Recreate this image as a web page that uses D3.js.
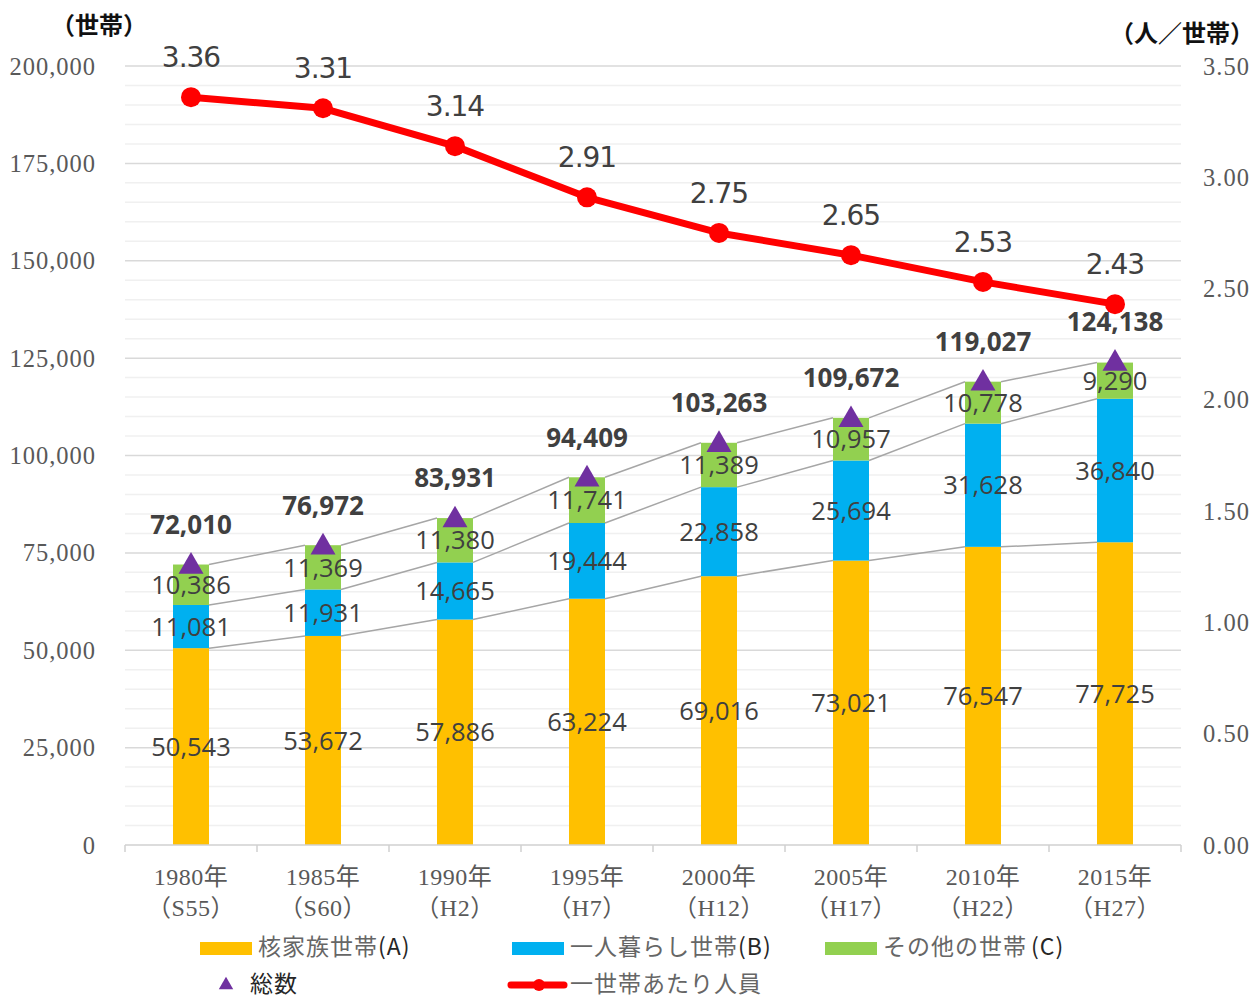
<!DOCTYPE html>
<html>
<head>
<meta charset="utf-8">
<script src="https://cdn.jsdelivr.net/npm/d3@7"></script>
<style>
  body { margin: 0; background: #fff; }
  svg { display: block; }
</style>
</head>
<body>
<div id="chart"></div>
<script>
var years = ["1980年", "1985年", "1990年", "1995年", "2000年", "2005年", "2010年", "2015年"];
var eras = ["（S55）", "（S60）", "（H2）", "（H7）", "（H12）", "（H17）", "（H22）", "（H27）"];
var nuclear = [50543, 53672, 57886, 63224, 69016, 73021, 76547, 77725];
var single = [11081, 11931, 14665, 19444, 22858, 25694, 31628, 36840];
var other = [10386, 11369, 11380, 11741, 11389, 10957, 10778, 9290];
var totals = [72010, 76972, 83931, 94409, 103263, 109672, 119027, 124138];
var perHousehold = [3.36, 3.31, 3.14, 2.91, 2.75, 2.65, 2.53, 2.43];

var seriesNames = ["核家族世帯", "一人暮らし世帯", "その他の世帯"];
var seriesTags = ["(A)", "(B)", "(C)"];
var seriesColors = ["#ffc000", "#00b0f0", "#92d050"];

const W = 1255, H = 998;
const plotL = 125, plotR = 1181, plotT = 66, plotB = 845;

const svg = d3.select("#chart").append("svg").attr("width", W).attr("height", H);

const x = d3.scaleBand().domain(years).range([plotL, plotR]).padding(0);
const y = d3.scaleLinear().domain([0, 200000]).range([plotB, plotT]);
const y2 = d3.scaleLinear().domain([0, 3.5]).range([plotB, plotT]);
const barW = 36;
const cx = (i) => x(years[i]) + x.bandwidth() / 2;

const serif = "'Liberation Serif', 'Noto Sans CJK JP', serif";
const sans = "'Open Sans', 'Liberation Sans', sans-serif";
const jp = "'Noto Sans CJK JP', sans-serif";

// gridlines: minor every 5,000 and major every 25,000
svg.append("g")
  .selectAll("line")
  .data(d3.range(5000, 200001, 5000).filter((v) => v % 25000 !== 0))
  .enter()
  .append("line")
  .attr("x1", plotL).attr("x2", plotR)
  .attr("y1", (d) => y(d)).attr("y2", (d) => y(d))
  .attr("stroke", "#f0f0f0").attr("stroke-width", 1.5);

svg.append("g")
  .selectAll("line")
  .data(d3.range(25000, 200001, 25000))
  .enter()
  .append("line")
  .attr("x1", plotL).attr("x2", plotR)
  .attr("y1", (d) => y(d)).attr("y2", (d) => y(d))
  .attr("stroke", "#d9d9d9").attr("stroke-width", 1.5);

// stacked data
const rows = years.map((yr, i) => ({ i: i, a: nuclear[i], b: single[i], c: other[i] }));
const stack = d3.stack().keys(["a", "b", "c"])(rows);

// series lines between bars
stack.forEach((layer) => {
  const segs = d3.range(years.length - 1).map((i) => [
    [cx(i) + barW / 2, y(layer[i][1])],
    [cx(i + 1) - barW / 2, y(layer[i + 1][1])],
  ]);
  svg.append("g")
    .selectAll("line")
    .data(segs)
    .enter()
    .append("line")
    .attr("x1", (d) => d[0][0]).attr("y1", (d) => d[0][1])
    .attr("x2", (d) => d[1][0]).attr("y2", (d) => d[1][1])
    .attr("stroke", "#a6a6a6").attr("stroke-width", 1.5);
});

// bars
stack.forEach((layer, k) => {
  svg.append("g")
    .selectAll("rect")
    .data(layer)
    .enter()
    .append("rect")
    .attr("x", (d, i) => cx(i) - barW / 2)
    .attr("width", barW)
    .attr("y", (d) => y(d[1]))
    .attr("height", (d) => y(d[0]) - y(d[1]))
    .attr("fill", seriesColors[k]);
});

// axes
const xAxis = svg.append("g").attr("transform", `translate(0,${plotB})`);
xAxis.append("line").attr("x1", plotL).attr("x2", plotR).attr("stroke", "#d0d0d0").attr("stroke-width", 1.5);
xAxis.selectAll("line.tick")
  .data(d3.range(years.length + 1))
  .enter()
  .append("line")
  .attr("class", "tick")
  .attr("x1", (d) => plotL + d * x.bandwidth()).attr("x2", (d) => plotL + d * x.bandwidth())
  .attr("y1", 0).attr("y2", 7)
  .attr("stroke", "#d0d0d0").attr("stroke-width", 1.5);
const xl = xAxis.selectAll("text.lab").data(years).enter().append("text")
  .attr("class", "lab")
  .attr("text-anchor", "middle")
  .attr("font-family", serif).attr("font-size", 24).attr("letter-spacing", 0.5).attr("fill", "#595959");
xl.append("tspan").attr("x", (d, i) => cx(i)).attr("y", 40).text((d) => d);
xl.append("tspan").attr("x", (d, i) => cx(i)).attr("y", 71).text((d, i) => eras[i]);

svg.append("g")
  .selectAll("text")
  .data(d3.range(0, 200001, 25000))
  .enter()
  .append("text")
  .attr("x", 96)
  .attr("y", (d) => y(d))
  .attr("dy", "0.35em")
  .attr("text-anchor", "end")
  .attr("font-family", serif).attr("font-size", 24.5).attr("letter-spacing", 1)
  .attr("fill", "#595959")
  .text((d) => d3.format(",")(d));

svg.append("g")
  .selectAll("text")
  .data(d3.range(0, 3.51, 0.5))
  .enter()
  .append("text")
  .attr("x", 1203)
  .attr("y", (d) => y2(d))
  .attr("dy", "0.35em")
  .attr("font-family", serif).attr("font-size", 24.5).attr("letter-spacing", 1)
  .attr("fill", "#595959")
  .text((d) => d3.format(".2f")(d));

svg.append("text").attr("x", 99).attr("y", 34).attr("text-anchor", "middle")
  .attr("font-family", jp).attr("font-size", 24).attr("font-weight", 700).attr("fill", "#111")
  .text("（世帯）");
svg.append("text").attr("x", 1254).attr("y", 42).attr("text-anchor", "end")
  .attr("font-family", jp).attr("font-size", 24).attr("font-weight", 700).attr("fill", "#111")
  .text("（人／世帯）");

// segment labels
stack.forEach((layer) => {
  svg.append("g")
    .selectAll("text")
    .data(layer)
    .enter()
    .append("text")
    .attr("x", (d, i) => cx(i))
    .attr("y", (d) => (y(d[0]) + y(d[1])) / 2)
    .attr("dy", "0.36em")
    .attr("text-anchor", "middle")
    .attr("font-family", sans).attr("font-size", 25.5).attr("fill", "#404040")
    .text((d) => d3.format(",")(d[1] - d[0]));
});

// per-household line
const line = d3.line().x((d, i) => cx(i)).y((d) => y2(d));
svg.append("path")
  .datum(perHousehold)
  .attr("d", line)
  .attr("fill", "none")
  .attr("stroke", "#ff0000").attr("stroke-width", 7)
  .attr("stroke-linejoin", "round");
svg.append("g")
  .selectAll("circle")
  .data(perHousehold)
  .enter()
  .append("circle")
  .attr("cx", (d, i) => cx(i)).attr("cy", (d) => y2(d)).attr("r", 10)
  .attr("fill", "#ff0000");
svg.append("g")
  .selectAll("text")
  .data(perHousehold)
  .enter()
  .append("text")
  .attr("x", (d, i) => cx(i))
  .attr("y", (d) => y2(d) - 40)
  .attr("dy", "0.36em")
  .attr("text-anchor", "middle")
  .attr("font-family", "'DejaVu Sans', sans-serif").attr("font-size", 28).attr("letter-spacing", -1)
  .attr("fill", "#404040")
  .text((d) => d.toFixed(2));

// totals
svg.append("g")
  .selectAll("path")
  .data(totals)
  .enter()
  .append("path")
  .attr("d", d3.symbol(d3.symbolTriangle, 270))
  .attr("transform", (d, i) => `translate(${cx(i)},${y(d) + 2})`)
  .attr("fill", "#7030a0");
svg.append("g")
  .selectAll("text")
  .data(totals)
  .enter()
  .append("text")
  .attr("x", (d, i) => cx(i))
  .attr("y", (d) => y(d) - 40)
  .attr("dy", "0.36em")
  .attr("text-anchor", "middle")
  .attr("font-family", sans).attr("font-size", 26).attr("font-weight", 700)
  .attr("fill", "#404040")
  .text((d) => d3.format(",")(d));

// legend
const legend = svg.append("g").attr("font-family", jp).attr("font-size", 23).attr("letter-spacing", 1).attr("fill", "#666");
const legendX = [200, 512, 825];
seriesNames.forEach((name, k) => {
  legend.append("rect").attr("x", legendX[k]).attr("y", 942).attr("width", 52).attr("height", 13)
    .attr("fill", seriesColors[k]);
  const t = legend.append("text").attr("x", legendX[k] + 58).attr("y", 947).attr("dy", "0.35em");
  t.append("tspan").text(name);
  t.append("tspan").attr("fill", "#262626").attr("dx", k === 2 ? 4 : 0).text(seriesTags[k]);
});
legend.append("path").attr("d", d3.symbol(d3.symbolTriangle, 90))
  .attr("transform", "translate(226,985)").attr("fill", "#7030a0");
legend.append("text").attr("x", 250).attr("y", 984).attr("dy", "0.35em").attr("fill", "#262626").text("総数");
legend.append("line").attr("x1", 511).attr("x2", 564).attr("y1", 985).attr("y2", 985)
  .attr("stroke", "#ff0000").attr("stroke-width", 7).attr("stroke-linecap", "round");
legend.append("circle").attr("cx", 539).attr("cy", 985).attr("r", 6).attr("fill", "#ff0000");
legend.append("text").attr("x", 570).attr("y", 984).attr("dy", "0.35em").text("一世帯あたり人員");
</script>
</body>
</html>
